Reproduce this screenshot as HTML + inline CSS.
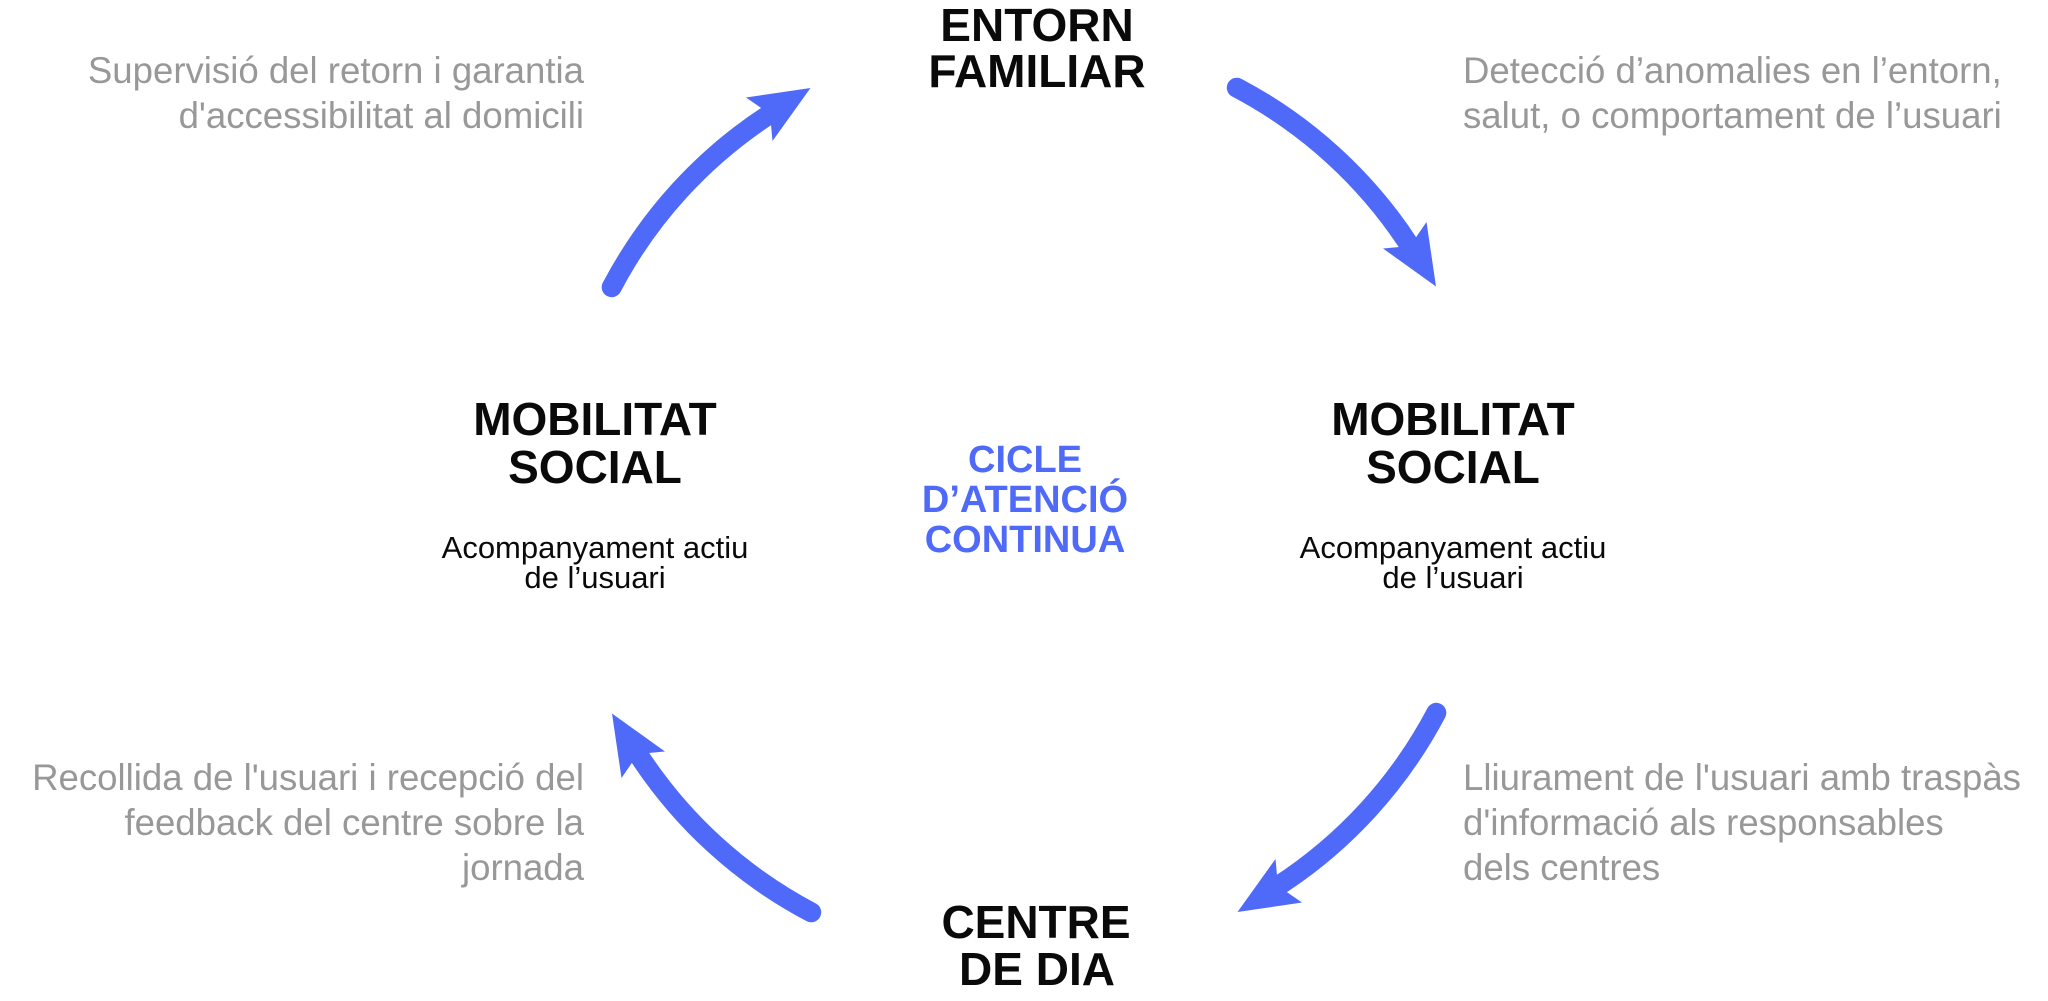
<!DOCTYPE html>
<html>
<head>
<meta charset="utf-8">
<style>
  html, body { margin: 0; padding: 0; background: #ffffff; }
  body { width: 2048px; height: 1001px; overflow: hidden; }
  svg { display: block; }
  .h { font-family: "Liberation Sans", "DejaVu Sans", sans-serif; font-weight: bold; font-size: 46px; fill: #0a0a0a; }
  .s { font-family: "Liberation Sans", "DejaVu Sans", sans-serif; font-size: 31px; fill: #0a0a0a; }
  .g { font-family: "Liberation Sans", "DejaVu Sans", sans-serif; font-size: 36.6px; fill: #989898; }
  .c { font-family: "Liberation Sans", "DejaVu Sans", sans-serif; font-weight: bold; font-size: 38px; fill: #4f6af8; }
</style>
</head>
<body>
<svg width="2048" height="1001" viewBox="0 0 2048 1001" xmlns="http://www.w3.org/2000/svg">
  <defs>
    <g id="arr">
      <path d="M 1236.8 87.7 A 464 464 0 0 1 1410 246" fill="none" stroke="#4f6af8" stroke-width="20" stroke-linecap="round"/>
      <polygon points="1436,286.5 1426.5,222 1410,246 1383,248.5" fill="#4f6af8"/>
    </g>
  </defs>

  <!-- arrows -->
  <use href="#arr"/>
  <use href="#arr" transform="rotate(90 1024 500)"/>
  <use href="#arr" transform="rotate(180 1024 500)"/>
  <use href="#arr" transform="rotate(-90 1024 500)"/>

  <!-- top node -->
  <text class="h" x="1037" y="41" text-anchor="middle">ENTORN</text>
  <text class="h" x="1037" y="87" text-anchor="middle">FAMILIAR</text>

  <!-- bottom node -->
  <text class="h" x="1036" y="938" text-anchor="middle">CENTRE</text>
  <text class="h" x="1037" y="985" text-anchor="middle">DE DIA</text>

  <!-- left node -->
  <text class="h" x="595" y="435" text-anchor="middle">MOBILITAT</text>
  <text class="h" x="595" y="483" text-anchor="middle">SOCIAL</text>
  <text class="s" x="595" y="558" text-anchor="middle">Acompanyament actiu</text>
  <text class="s" x="595" y="588" text-anchor="middle">de l’usuari</text>

  <!-- right node -->
  <text class="h" x="1453" y="435" text-anchor="middle">MOBILITAT</text>
  <text class="h" x="1453" y="483" text-anchor="middle">SOCIAL</text>
  <text class="s" x="1453" y="558" text-anchor="middle">Acompanyament actiu</text>
  <text class="s" x="1453" y="588" text-anchor="middle">de l’usuari</text>

  <!-- center -->
  <text class="c" x="1025" y="472" text-anchor="middle">CICLE</text>
  <text class="c" x="1025" y="512" text-anchor="middle">D’ATENCIÓ</text>
  <text class="c" x="1025" y="552" text-anchor="middle">CONTINUA</text>

  <!-- gray descriptions -->
  <text class="g" x="584" y="83" text-anchor="end">Supervisió del retorn i garantia</text>
  <text class="g" x="584" y="128" text-anchor="end">d'accessibilitat al domicili</text>

  <text class="g" x="1463" y="83">Detecció d’anomalies en l’entorn,</text>
  <text class="g" x="1463" y="128">salut, o comportament de l’usuari</text>

  <text class="g" x="584" y="790" text-anchor="end">Recollida de l'usuari i recepció del</text>
  <text class="g" x="584" y="835" text-anchor="end">feedback del centre sobre la</text>
  <text class="g" x="584" y="880" text-anchor="end">jornada</text>

  <text class="g" x="1463" y="790">Lliurament de l'usuari amb traspàs</text>
  <text class="g" x="1463" y="835">d'informació als responsables</text>
  <text class="g" x="1463" y="880">dels centres</text>
</svg>
</body>
</html>
